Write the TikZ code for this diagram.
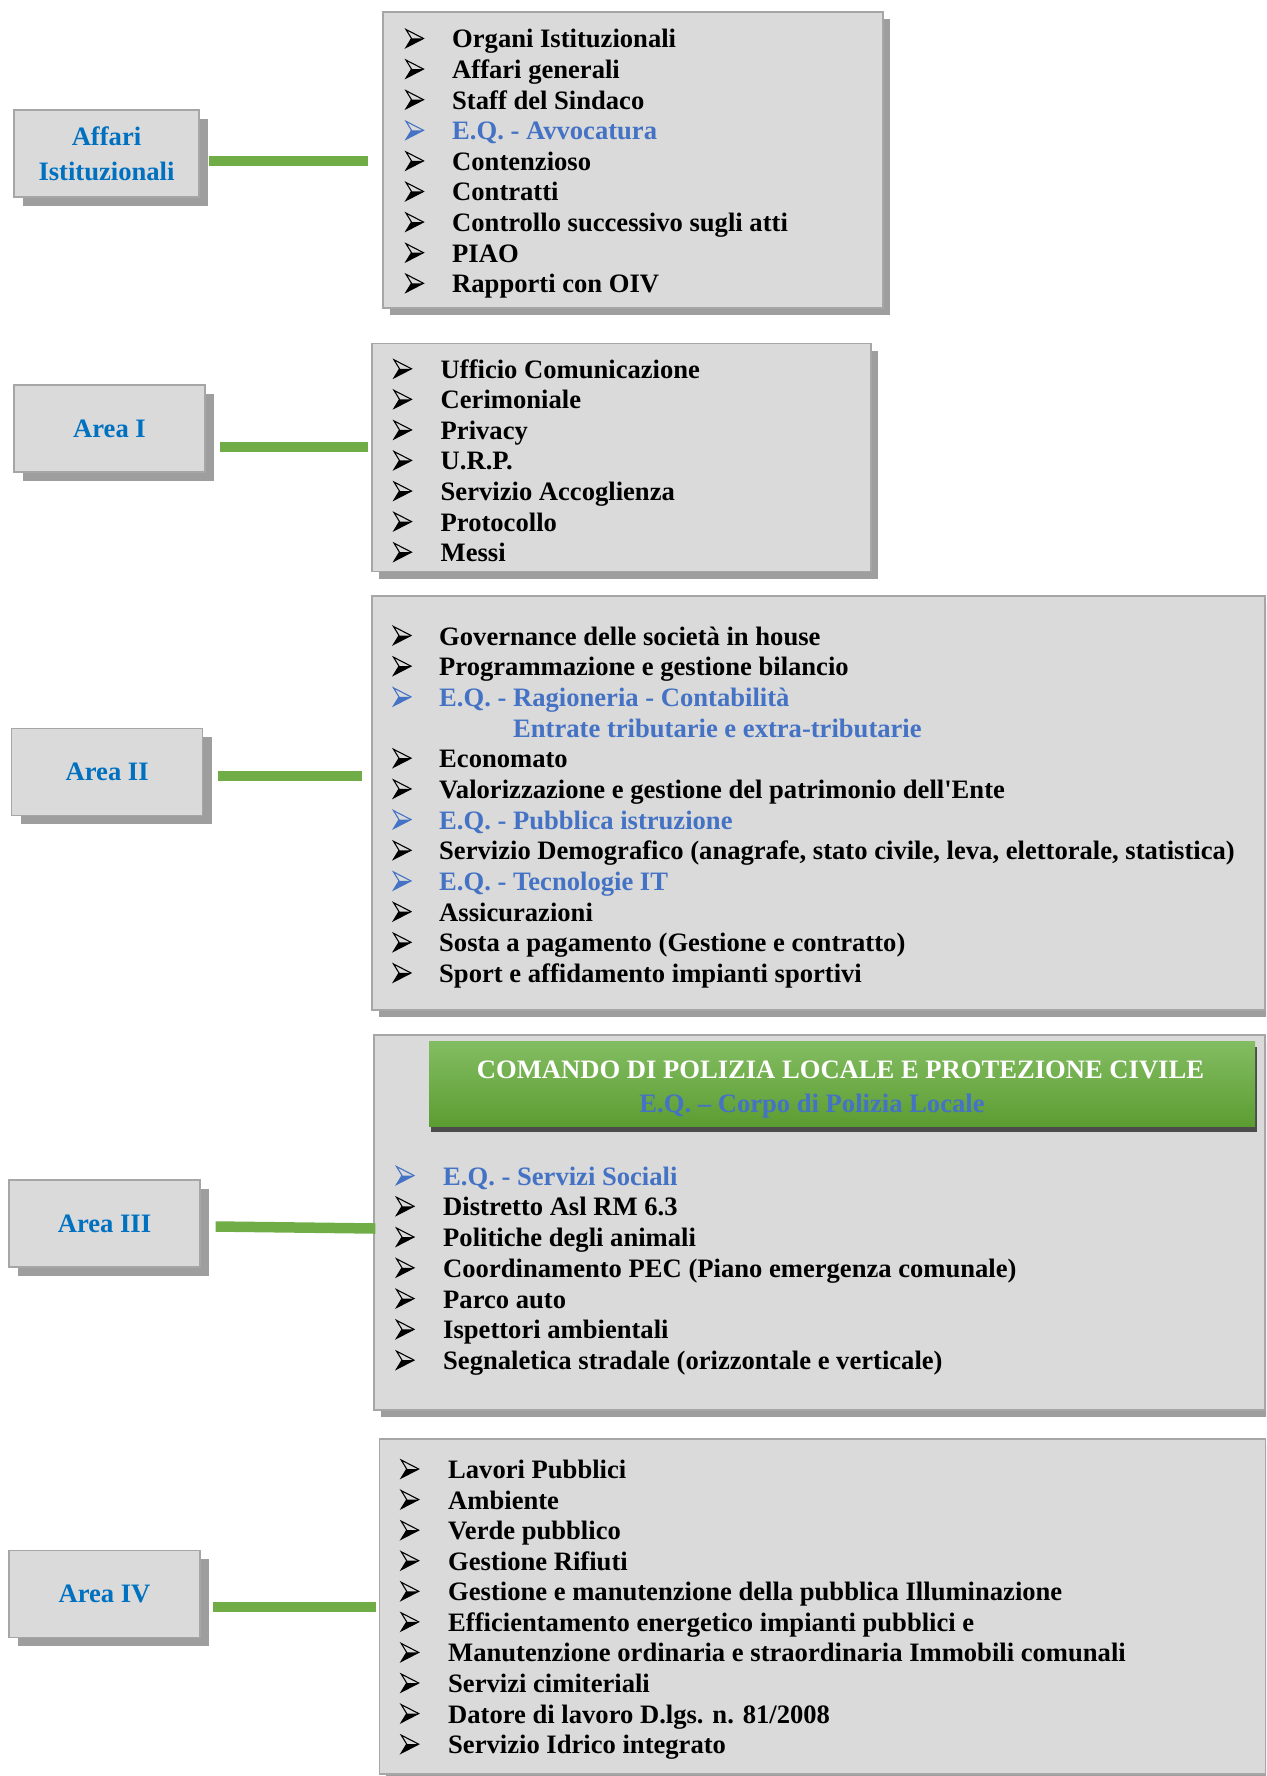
\documentclass[tikz,border=0pt]{standalone}
\usepackage{fontspec}
\setmainfont{Liberation Serif}
\usetikzlibrary{shadows,positioning}
\definecolor{boxgray}{RGB}{218,218,218}
\definecolor{edgegray}{RGB}{166,166,166}
\definecolor{shadegray}{RGB}{158,158,158}
\definecolor{areablue}{RGB}{0,112,192}
\definecolor{eqblue}{RGB}{68,114,196}
\definecolor{linkgreen}{RGB}{112,173,71}
\definecolor{hdtop}{RGB}{131,189,98}
\definecolor{hdbot}{RGB}{92,157,50}
\newcommand\itemfont{\fontsize{26.6}{30.6}\selectfont\bfseries}
\newcommand\areafont{\fontsize{26.6}{35}\selectfont\bfseries}
\tikzset{
  areabox/.style={draw=edgegray,line width=1.2pt,fill=boxgray,minimum height=87pt,inner sep=0pt,
    align=center,font=\areafont,text=areablue,
    drop shadow={shadow xshift=9pt,shadow yshift=-9pt,fill=shadegray,opacity=1}},
  listbox/.style={draw=edgegray,line width=1.2pt,fill=boxgray,inner sep=0pt,
    drop shadow={shadow xshift=7pt,shadow yshift=-7pt,fill=shadegray,opacity=1}},
  header/.style={minimum width=826pt,minimum height=85pt,inner sep=0pt,top color=hdtop,bottom color=hdbot,
    drop shadow={shadow xshift=2pt,shadow yshift=-6pt,fill=black!70,opacity=1}},
  item/.style={anchor=base west,inner sep=0pt,font=\itemfont},
  headtxt/.style={anchor=base,inner sep=0pt,font=\itemfont},
  link/.style={draw=linkgreen,line width=10.5pt},
  arrowbul/.pic={
    \draw[line width=1.1pt,line join=miter] (-8.5,-9) -- (9,0) -- (-8.5,9) -- (-3,0) -- cycle;
    \fill (-3,0) -- (9,0) -- (-8.5,9) -- cycle;}
}
\begin{document}
\begin{tikzpicture}[x=1pt,y=-1pt]
\useasboundingbox (0,0) rectangle (1266,1776);
\clip (0,0) rectangle (1266,1776);
% areas
\node[areabox,minimum width=185pt] (aff) at (106.5,153.5) {Affari\\Istituzionali};
\node[areabox,minimum width=191pt] (a1) at (109.5,428.5) {Area I};
\node[areabox,minimum width=191pt] (a2) at (107.2,771.7) {Area II};
\node[areabox,minimum width=191pt] (a3) at (104.5,1223.5) {Area III};
\node[areabox,minimum width=191pt] (a4) at (104.5,1593.7) {Area IV};
% service boxes
\node[listbox,minimum width=500pt,minimum height=296pt] (r0) at (633,160) {};
\node[listbox,minimum width=499pt,minimum height=228pt] (r1) at (621.4,457.5) {};
\node[listbox,minimum width=893pt,minimum height=414pt] (r2) at (818.4,803) {};
\node[listbox,minimum width=891pt,minimum height=375pt] (r3) at (819.5,1222.5) {};
\node[listbox,minimum width=886pt,minimum height=335pt] (r4) at (822.2,1606.5) {};
% links
\draw[link] ([shift={(9,7.5)}]aff.east) -- ([shift={(-14,1)}]r0.west);
\draw[link] ([shift={(14,18.5)}]a1.east) -- ([shift={(-3.7,-10.5)}]r1.west);
\draw[link] ([shift={(14.3,4.3)}]a2.east) -- ([shift={(-9.4,-27)}]r2.west);
\draw[link] ([shift={(15,3)}]a3.east) -- ([shift={(2,6)}]r3.west);
\draw[link] ([shift={(12.7,13.3)}]a4.east) -- ([shift={(-2.6,0.5)}]r4.west);
% polizia header
\node[header] (cmd) at (842,1083.5) {};
\node[headtxt,text=white] (cmdt) at (840.5,1078) {COMANDO DI POLIZIA LOCALE E PROTEZIONE CIVILE};
\node[headtxt,text=eqblue] (cmds) at (812,1112) {E.Q. -- Corpo di Polizia Locale};
% lists
\foreach \t/\c [count=\i from 0] in {Organi Istituzionali/black,Affari generali/black,Staff del Sindaco/black,
  E.Q. - Avvocatura/eqblue,Contenzioso/black,Contratti/black,Controllo successivo sugli atti/black,PIAO/black,
  Rapporti con OIV/black}{
  \node[item,text=\c] (r0-\i) at (452,48+30.6*\i) {\t};
  \pic[color=\c] at (414.5,38.5+30.6*\i) {arrowbul};}
\foreach \t/\c [count=\i from 0] in {Ufficio Comunicazione/black,Cerimoniale/black,Privacy/black,U.R.P./black,
  Servizio Accoglienza/black,Protocollo/black,Messi/black}{
  \node[item,text=\c] (r1-\i) at (440.5,378.3+30.56*\i) {\t};
  \pic[color=\c] at (402.5,368.8+30.56*\i) {arrowbul};}
\foreach \k/\t/\c in {0/Governance delle società in house/black,1/Programmazione e gestione bilancio/black,
  2/E.Q. - Ragioneria - Contabilità/eqblue,4/Economato/black,
  5/Valorizzazione e gestione del patrimonio dell\textquotesingle Ente/black,6/E.Q. - Pubblica istruzione/eqblue,
  7/{Servizio Demografico (anagrafe, stato civile, leva, elettorale, statistica)}/black,
  8/E.Q. - Tecnologie IT/eqblue,9/Assicurazioni/black,10/Sosta a pagamento (Gestione e contratto)/black,
  11/Sport e affidamento impianti sportivi/black}{
  \node[item,text=\c] (r2-\k) at (439,645+30.68*\k) {\t};
  \pic[color=\c] at (402,635.5+30.68*\k) {arrowbul};}
\node[item,text=eqblue] (r2-3) at (513,645+30.68*3) {Entrate tributarie e extra-tributarie};
\foreach \t/\c [count=\i from 0] in {E.Q. - Servizi Sociali/eqblue,Distretto Asl RM 6.3/black,
  Politiche degli animali/black,Coordinamento PEC (Piano emergenza comunale)/black,Parco auto/black,
  Ispettori ambientali/black,Segnaletica stradale (orizzontale e verticale)/black}{
  \node[item,text=\c] (r3-\i) at (443,1185+30.77*\i) {\t};
  \pic[color=\c] at (405,1175.5+30.77*\i) {arrowbul};}
\foreach \t/\c [count=\i from 0] in {Lavori Pubblici/black,Ambiente/black,Verde pubblico/black,
  Gestione Rifiuti/black,Gestione e manutenzione della pubblica Illuminazione/black,
  Efficientamento energetico impianti pubblici e/black,
  Manutenzione ordinaria e straordinaria Immobili comunali/black,Servizi cimiteriali/black,
  {Datore di lavoro D.lgs. n. 81/2008}/black,Servizio Idrico integrato/black}{
  \node[item,text=\c] (r4-\i) at (448,1478.5+30.57*\i) {\t};
  \pic[color=\c] at (409.7,1469+30.57*\i) {arrowbul};}
\end{tikzpicture}
\end{document}
